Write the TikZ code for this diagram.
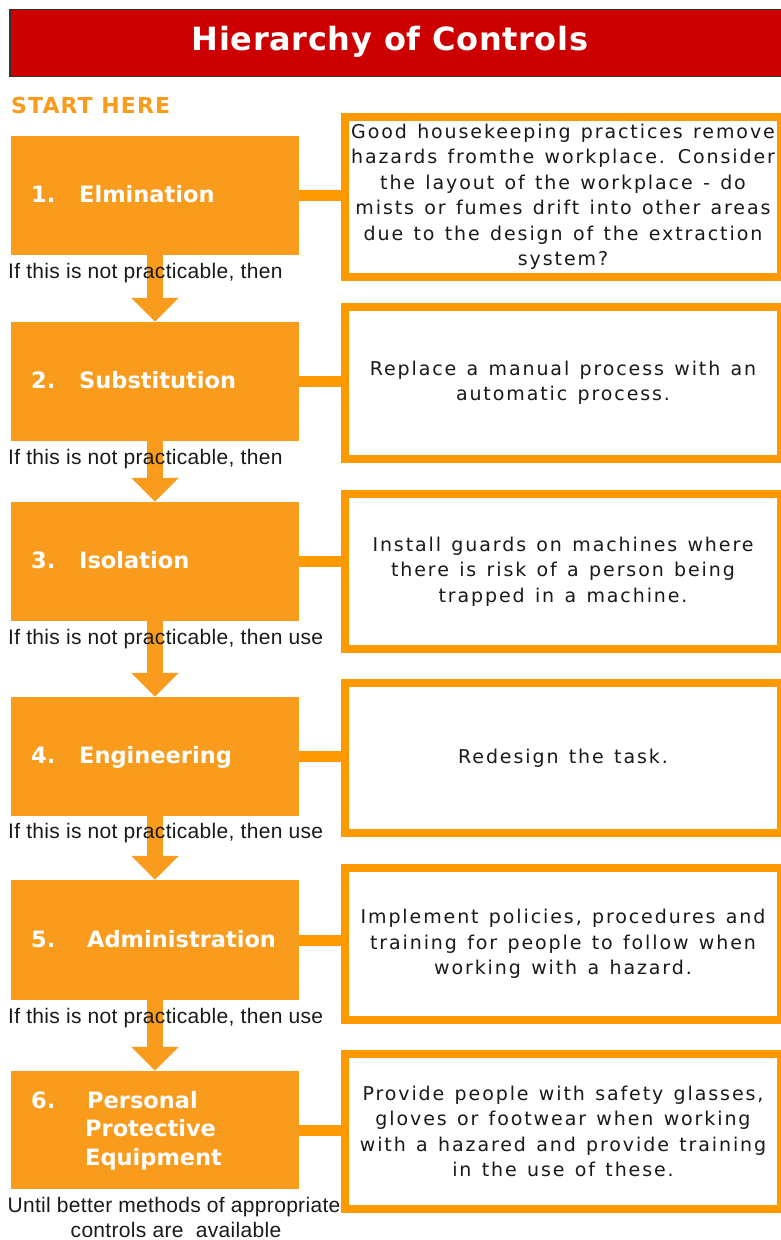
\documentclass[tikz,border=0pt]{standalone}
\usepackage{fontspec}
\usetikzlibrary{arrows.meta}
\newfontfamily\titlefont[LetterSpace=2]{DejaVu Sans}
\newfontfamily\stepfont{DejaVu Sans}
\newfontfamily\descfont[LetterSpace=10,WordSpace=1.3]{DejaVu Sans}
\newfontfamily\lblfont[LetterSpace=1.5]{Liberation Sans}
\newfontfamily\startfont[LetterSpace=5]{DejaVu Sans}
\definecolor{orangeL}{RGB}{249,155,28}
\definecolor{orangeR}{RGB}{255,153,0}
\definecolor{titlered}{RGB}{204,0,0}
\definecolor{txtdark}{RGB}{25,25,25}
\tikzset{
  titlebar/.style={fill=titlered, draw=black!80, line width=1.5pt, minimum width=772pt, minimum height=67pt, inner sep=0pt},
  titletext/.style={text=white, font=\titlefont\bfseries\fontsize{32}{34}\selectfont, inner sep=0pt, anchor=base},
  starttext/.style={text=orangeL, font=\startfont\bfseries\fontsize{22}{24}\selectfont, inner sep=0pt, anchor=base west},
  lbox/.style={fill=orangeL, minimum width=288pt, minimum height=119pt, inner sep=0pt},
  rbox/.style={draw=orangeR, fill=white, line width=8pt, minimum width=436pt, inner sep=0pt, align=center, text=txtdark, font=\descfont\fontsize{19}{25.5}\selectfont},
  num/.style={text=white, font=\stepfont\bfseries\fontsize{22.5}{28.5}\selectfont, inner sep=0pt, anchor=base west},
  conn/.style={draw=orangeR, line width=11pt},
  flow/.style={draw=orangeL, line width=16pt, -{Triangle[width=46pt,length=24pt]}},
  lbl/.style={text=txtdark, font=\lblfont\fontsize{21}{25}\selectfont, inner sep=0pt, anchor=base west}
}
\begin{document}
\begin{tikzpicture}[x=1pt,y=-1pt]
\useasboundingbox (0,0) rectangle (780,1240);
% title
\node[titlebar] (title) at (396,43) {};
\node[titletext] (titlet) at (390,50) {Hierarchy of Controls};
\node[starttext] (start) at (11,113) {START HERE};
% left boxes
\node[lbox] (b1) at (155,195.5) {};
\node[lbox] (b2) at (155,381.5) {};
\node[lbox] (b3) at (155,561.5) {};
\node[lbox] (b4) at (155,756.5) {};
\node[lbox, minimum height=120pt] (b5) at (155,940) {};
\node[lbox, minimum height=118pt] (b6) at (155,1130) {};
% right boxes
\node[rbox, minimum height=160pt] (r1) at (563,197) {Good housekeeping practices remove\\hazards fromthe workplace. Consider\\the layout of the workplace - do\\mists or fumes drift into other areas\\due to the design of the extraction\\system?};
\node[rbox, minimum height=152pt] (r2) at (563,383) {Replace a manual process with an\\automatic process.};
\node[rbox, minimum height=155pt] (r3) at (563,571.5) {Install guards on machines where\\there is risk of a person being\\trapped in a machine.};
\node[rbox, minimum height=150pt] (r4) at (563,758) {Redesign the task.};
\node[rbox, minimum height=152pt] (r5) at (563,944) {Implement policies, procedures and\\training for people to follow when\\working with a hazard.};
\node[rbox, minimum height=155pt] (r6) at (563,1131.5) {Provide people with safety glasses,\\gloves or footwear when working\\with a hazared and provide training\\in the use of these.};
% connectors
\foreach \i in {1,...,6} {\draw[conn] (b\i.east) -- (b\i.east -| r\i.west);}
% flow arrows
\draw[flow] (b1.south) -- (b2.north);
\draw[flow] (b2.south) -- (b3.north);
\draw[flow] (b3.south) -- (b4.north);
\draw[flow] (b4.south) -- (b5.north);
\draw[flow] (b5.south) -- (b6.north);
% step texts
\node[num] (n1) at (31,202) {1.};
\node[num] (t1) at (79,202) {Elmination};
\node[num] (n2) at (31,388) {2.};
\node[num] (t2) at (79,388) {Substitution};
\node[num] (n3) at (31,568) {3.};
\node[num] (t3) at (79,568) {Isolation};
\node[num] (n4) at (31,763) {4.};
\node[num] (t4) at (79,763) {Engineering};
\node[num] (n5) at (31,947) {5.};
\node[num] (t5) at (87,947) {Administration};
\node[num] (n6) at (31,1108) {6.};
\node[num] (t6a) at (87,1108) {Personal};
\node[num] (t6b) at (85,1136.5) {Protective};
\node[num] (t6c) at (85,1165) {Equipment};
% labels
\node[lbl] (l1) at (8,278) {If this is not practicable, then};
\node[lbl] (l2) at (8,464) {If this is not practicable, then};
\node[lbl] (l3) at (8,644) {If this is not practicable, then use};
\node[lbl] (l4) at (8,838) {If this is not practicable, then use};
\node[lbl] (l5) at (8,1023) {If this is not practicable, then use};
\node[lbl, anchor=base] (l6a) at (174,1212) {Until better methods of appropriate};
\node[lbl, anchor=base] (l6b) at (176,1237) {controls are~ available};
\end{tikzpicture}
\end{document}
